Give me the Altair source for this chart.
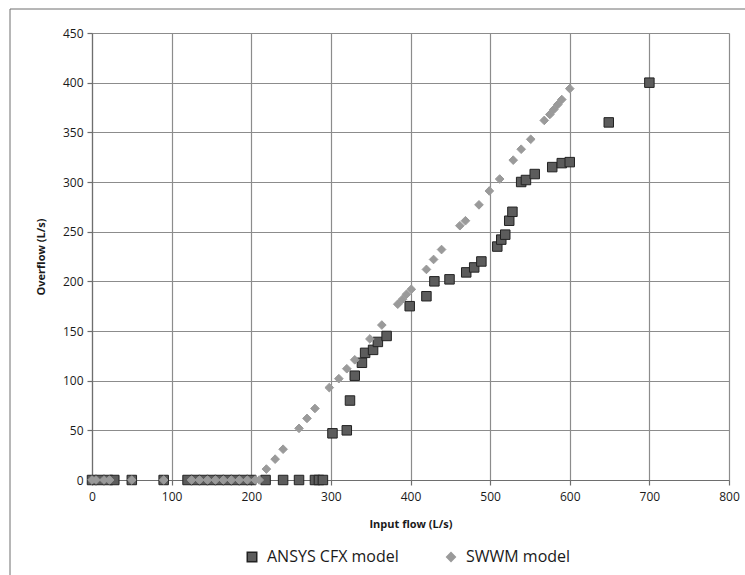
import altair as alt
import pandas as pd

ansys_x = [0, 10, 20, 28, 50, 90, 120, 130, 140, 150, 160, 170, 180, 190, 200,
           218, 240, 260, 280, 285, 290,
           302, 320, 324, 330, 339, 343, 353, 359, 370, 399, 420, 430, 449, 470,
           480, 489, 509, 514, 519, 524, 528, 539, 545, 556, 578, 590, 600, 649, 700]
ansys_y = [0, 0, 0, 0, 0, 0, 0, 0, 0, 0, 0, 0, 0, 0, 0,
           0, 0, 0, 0, 0, 0,
           47, 50, 80, 105, 118, 128, 131, 139, 145, 175, 185, 200, 202, 209,
           214, 220, 235, 242, 247, 261, 270, 300, 302, 308, 315, 319, 320, 360, 400]

swwm_x = [0, 5, 15, 22, 50, 90, 125, 135, 145, 155, 165, 175, 185, 195, 205, 210,
          219, 230, 240, 260, 270, 280, 298, 310, 320, 330, 349, 364, 384, 390, 395,
          401, 420, 429, 439, 462, 469, 486, 499, 512, 529, 539, 551, 568, 575, 580,
          585, 590, 600]
swwm_y = [0, 0, 0, 0, 0, 0, 0, 0, 0, 0, 0, 0, 0, 0, 0, 0,
          11, 21, 31, 52, 62, 72, 93, 102, 112, 121, 142, 156, 177, 182, 187,
          192, 212, 222, 232, 256, 261, 277, 291, 303, 322, 333, 343, 362, 368, 373,
          378, 383, 394]

series_names = ["ANSYS CFX model", "SWWM model"]

df = pd.concat([
    pd.DataFrame({"x": ansys_x, "y": ansys_y, "series": series_names[0], "o": 0}),
    pd.DataFrame({"x": swwm_x, "y": swwm_y, "series": series_names[1], "o": 1}),
], ignore_index=True)

FONT = "Open Sans"

frame = alt.Chart(pd.DataFrame({"a": [0]})).mark_rect(
    fill=None, stroke="#6e6e6e", strokeWidth=1
).encode(x=alt.value(-82), x2=alt.value(700), y=alt.value(-24), y2=alt.value(600))

points = alt.Chart(df).mark_point(filled=True, opacity=1, strokeWidth=1).encode(
    x=alt.X("x:Q", scale=alt.Scale(domain=[0, 800], nice=False),
            axis=alt.Axis(values=list(range(0, 801, 100)), title="Input flow (L/s)")),
    y=alt.Y("y:Q", scale=alt.Scale(domain=[0, 450], nice=False),
            axis=alt.Axis(values=list(range(0, 451, 50)), title="Overflow (L/s)")),
    color=alt.Color("series:N", scale=alt.Scale(domain=series_names, range=["#5c5c5c", "#9a9a9a"]),
                    legend=alt.Legend(title=None, orient="none", legendX=152, legendY=516,
                                      direction="horizontal", labelFontSize=16,
                                      labelFont=FONT, labelColor="#1a1a1a",
                                      columnPadding=44, symbolSize=80, labelOffset=7)),
    shape=alt.Shape("series:N", scale=alt.Scale(domain=series_names, range=["square", "diamond"]),
                    legend=None),
    stroke=alt.Stroke("series:N", scale=alt.Scale(domain=series_names, range=["#222222", "#9a9a9a"]),
                      legend=None),
    size=alt.Size("series:N", scale=alt.Scale(domain=series_names, range=[90, 75]), legend=None),
    order=alt.Order("o:Q"),
)

chart = alt.layer(frame, points).properties(
    width=637, height=447,
    autosize=alt.AutoSizeParams(type="none"),
    padding={"left": 92, "top": 33, "right": 16, "bottom": 95},
).configure_view(stroke=None).configure_axis(
    grid=True, gridColor="#8c8c8c", gridWidth=1.2,
    domainColor="#6e6e6e", domainWidth=1.2,
    tickColor="#6e6e6e", tickSize=5, tickWidth=1.2, labelFlush=False,
    labelFont=FONT, labelFontSize=12, labelColor="#1a1a1a",
    titleFont=FONT, titleFontSize=11, titleFontWeight="bold", titleColor="#1a1a1a",
).configure_axisX(labelPadding=6, titlePadding=16).configure_axisY(
    labelPadding=4, titlePadding=16
)

chart.save("out.html", embed_options={"renderer": "svg", "actions": False})
